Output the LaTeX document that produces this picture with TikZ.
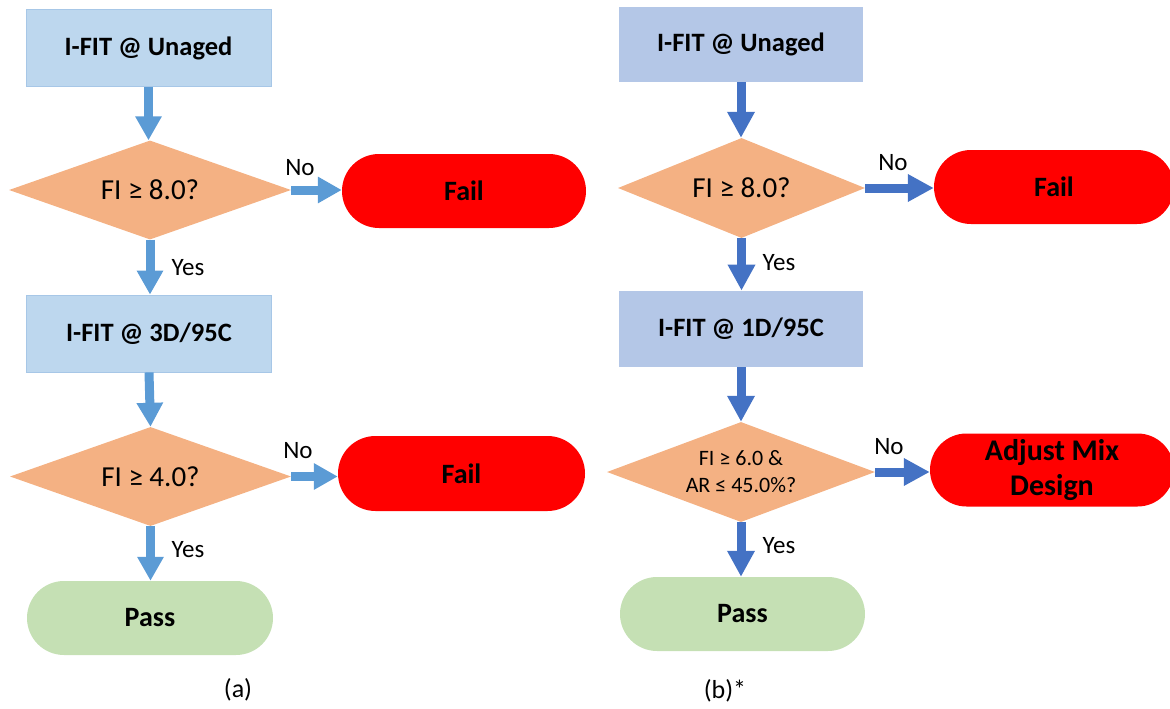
\documentclass[tikz,border=0pt]{standalone}
\usepackage{fontspec}
\setmainfont{Carlito}
\usetikzlibrary{arrows.meta,positioning,shapes.geometric,shapes.misc}
\definecolor{ablue}{HTML}{BDD7EE}
\definecolor{ablueline}{HTML}{A7C7E7}
\definecolor{aarrowcol}{HTML}{5B9BD5}
\definecolor{bblue}{HTML}{B4C7E7}
\definecolor{barrowcol}{HTML}{4472C4}
\definecolor{decorange}{HTML}{F4B183}
\definecolor{failred}{HTML}{FF0000}
\definecolor{passgreen}{HTML}{C5E0B4}

\begin{document}
\begin{tikzpicture}[
  x=1pt, y=-1pt,
  testbox/.style={
    fill=ablue, draw=ablueline, line width=0.8pt, inner sep=0pt,
    font=\fontsize{26.5}{30}\selectfont\bfseries,
    minimum width=245pt, minimum height=77pt
  },
  testboxb/.style={testbox, fill=bblue, draw=none, minimum width=244pt, minimum height=76pt},
  decision/.style={
    diamond, fill=decorange, inner sep=0pt, shape aspect=2.8,
    font=\fontsize{29}{32}\selectfont,
    minimum width=282pt, minimum height=99pt
  },
  endpill/.style={
    rounded rectangle, inner sep=0pt, align=center,
    font=\fontsize{28}{35}\selectfont\bfseries,
    minimum width=245pt, minimum height=74pt
  },
  failpill/.style={endpill, fill=failred},
  passpill/.style={endpill, fill=passgreen},
  lbl/.style={font=\fontsize{25}{30}\selectfont, inner sep=0pt},
  aarrow/.style={-{Triangle[length=24pt, width=25pt]}, aarrowcol, line width=9pt},
  barrow/.style={-{Triangle[length=26pt, width=26pt]}, barrowcol, line width=9pt},
]
  \useasboundingbox (0,0) rectangle (1170,709);

  % (a) flujo de la izquierda
  \node[testbox] (ua) at (148.5,48) {I-FIT @ Unaged};
  \node[decision] (da1) at (150,190) {FI ≥ 8.0?};
  \node[failpill, minimum width=244pt] (fa1) at (464,191) {Fail};
  \node[testbox] (ba2) at (149,333.5) {I-FIT @ 3D/95C};
  \node[decision, minimum width=281pt] (da2) at (150.5,476.5) {FI ≥ 4.0?};
  \node[failpill, minimum width=247pt, minimum height=75pt] (fa2) at (461.5,473.5) {Fail};
  \node[passpill, minimum width=246pt] (pa) at (150,618) {Pass};

  \draw[aarrow] (ua.south) -- (ua.south |- da1.north);
  \draw[aarrow] (da1.east) -- (da1.east -| fa1.west);
  \draw[aarrow] (da1.south) -- (da1.south |- ba2.north);
  \draw[aarrow] (ba2.south) -- (da2.north);
  \draw[aarrow] (da2.east) -- (da2.east -| fa2.west);
  \draw[aarrow] (da2.south) -- (da2.south |- pa.north);

  \node[lbl] (no1) at (300,168) {No};
  \node[lbl] (yes1) at (188,268) {Yes};
  \node[lbl] (no2) at (298,451) {No};
  \node[lbl] (yes2) at (188,550) {Yes};
  \node[lbl, font=\fontsize{26}{30}\selectfont] (capa) at (238,690) {(a)};

  % (b) flujo de la derecha
  \node[testboxb, minimum height=75pt] (ub) at (741,44.5) {I-FIT @ Unaged};
  \node[decision, minimum width=247pt, minimum height=100pt, shape aspect=2.5] (db1) at (741.5,188) {FI ≥ 8.0?};
  \node[failpill, minimum width=240pt] (fb) at (1054,187) {Fail};
  \node[testboxb] (bb2) at (741,329) {I-FIT @ 1D/95C};
  \node[decision, minimum width=268pt, minimum height=100pt, shape aspect=2.68,
        align=center, font=\fontsize{22}{27}\selectfont] (db2) at (741,472)
        {FI ≥ 6.0 \&\\AR ≤ 45.0\%?};
  \node[failpill, minimum width=244pt, minimum height=73pt,
        font=\fontsize{30}{35}\selectfont\bfseries] (adj) at (1052,470) {Adjust Mix\\Design};
  \node[passpill] (pb) at (742.5,614) {Pass};

  \draw[barrow] (ub.south) -- (ub.south |- db1.north);
  \draw[barrow] (db1.east) -- (db1.east -| fb.west);
  \draw[barrow] (db1.south) -- (db1.south |- bb2.north);
  \draw[barrow] (bb2.south) -- (bb2.south |- db2.north);
  \draw[barrow] (db2.east) -- (db2.east -| adj.west);
  \draw[barrow] (db2.south) -- (db2.south |- pb.north);

  \node[lbl] (no3) at (893,163) {No};
  \node[lbl] (yes3) at (779,263) {Yes};
  \node[lbl] (no4) at (889,447) {No};
  \node[lbl] (yes4) at (779,546) {Yes};
  \node[lbl, font=\fontsize{26}{30}\selectfont] (capb) at (725,691) {(b)*};
\end{tikzpicture}
\end{document}
